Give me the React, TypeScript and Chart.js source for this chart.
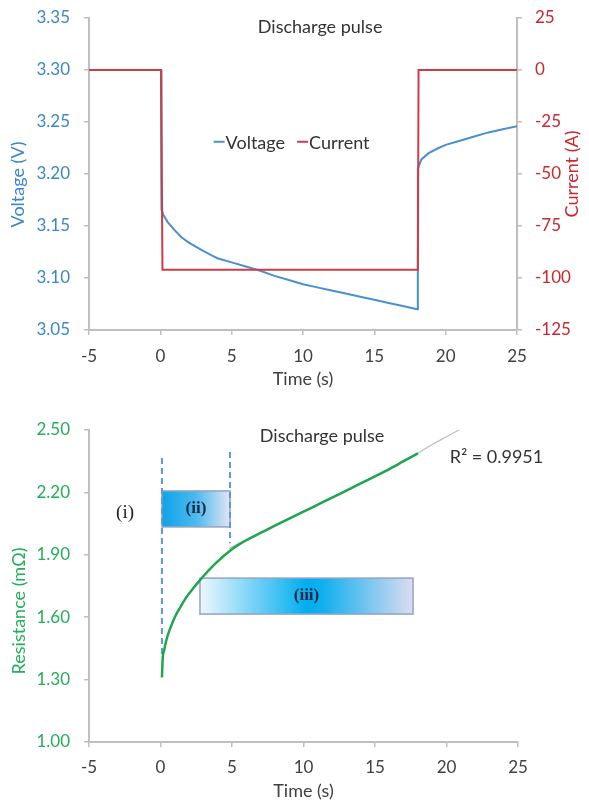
import { useEffect, useRef } from 'react';
import { Chart, registerables } from 'chart.js';

Chart.register(...registerables);

const FONT = 'Lato, "Noto Sans", sans-serif';
const SERIF = '"Liberation Serif", "DejaVu Serif", serif';

// ---------- axis ticks ----------
const timeTicks = [-5, 0, 5, 10, 15, 20, 25];
const voltageTicks = [3.05, 3.1, 3.15, 3.2, 3.25, 3.3, 3.35];
const currentTicks = [-125, -100, -75, -50, -25, 0, 25];
const resistanceTicks = [1.0, 1.3, 1.6, 1.9, 2.2, 2.5];

// ---------- top chart series ----------
const voltageTime = [-5, 0, 0.05, 0.06, 0.1, 0.2, 0.5, 1, 1.5, 2, 3, 3.7, 4, 5, 6, 7, 8, 9, 10, 11, 12, 13, 14, 15, 16, 17, 18, 18.05, 18.3, 18.8, 19.5, 20, 21, 22, 23, 24, 25];
const voltageValues = [3.3, 3.3, 3.3, 3.175, 3.166, 3.161, 3.154, 3.146, 3.139, 3.134, 3.126, 3.121, 3.119, 3.115, 3.111, 3.107, 3.102, 3.098, 3.094, 3.091, 3.088, 3.085, 3.082, 3.079, 3.076, 3.073, 3.07, 3.205, 3.214, 3.22, 3.225, 3.228, 3.232, 3.236, 3.24, 3.243, 3.246];

const currentTime = [-5, 0.05, 0.15, 18.05, 18.1, 25];
const currentValues = [0, 0, -96, -96, 0, 0];

// ---------- bottom chart series ----------
const resistanceTime = [0.1, 0.15, 0.25, 0.45, 0.7, 1.0, 1.4, 1.85, 2.3, 2.76, 3.0, 3.5, 4.0, 4.5, 5.0, 5.5, 6.0, 7.0, 8.0, 9.0, 10.0, 11.0, 12.0, 13.0, 14.0, 15.0, 16.0, 17.0, 18.0];
const resistanceValues = [1.31, 1.4, 1.44, 1.5, 1.55, 1.6, 1.65, 1.7, 1.74, 1.778, 1.797, 1.835, 1.868, 1.899, 1.927, 1.95, 1.97, 2.005, 2.04, 2.074, 2.107, 2.141, 2.175, 2.209, 2.243, 2.277, 2.312, 2.35, 2.388];

const trendTime = [4.8, 7, 10, 13, 16, 18, 19, 20, 21];
const trendValues = [1.93, 2.008, 2.108, 2.21, 2.313, 2.388, 2.43, 2.468, 2.505];

// ---------- bottom chart annotations (data units) ----------
const markerTime = [0.1, 4.86];
const markerTop = [2.365, 2.394];
const markerBottom = [1.404, 1.955];

const boxLabels = ['(ii)', '(iii)'];
const boxStart = [0.1, 2.76];
const boxEnd = [4.86, 17.66];
const boxLow = [2.034, 1.615];
const boxHigh = [2.207, 1.788];
const boxStops: [number, string][][] = [
  [[0, '#0ea3e8'], [0.5, '#4cb9ee'], [1, '#e4e4f4']],
  [[0, '#eef7fd'], [0.5, '#00aeef'], [0.58, '#12b0ef'], [1, '#dcdcf0']],
];

const BLUE = '#3a86c8';
const RED = '#c8282e';
const GREEN = '#22ae5a';
const GRAY_TEXT = '#404040';

const axisGrid = { display: true, drawOnChartArea: false, drawTicks: true, tickLength: 5, color: '#bfbfbf', lineWidth: 1.5 };
const axisBorder = { display: true, color: '#bfbfbf', width: 2 };

const pts = (xs: number[], ys: number[]) => xs.map((x, i) => ({ x, y: ys[i] }));

function rotatedText(ctx: CanvasRenderingContext2D, text: string, x: number, y: number, color: string, font: string) {
  ctx.save();
  ctx.translate(x, y);
  ctx.rotate(-Math.PI / 2);
  ctx.textAlign = 'center';
  ctx.textBaseline = 'middle';
  ctx.fillStyle = color;
  ctx.font = font;
  ctx.fillText(text, 0, 0);
  ctx.restore();
}

const overlayPlugin = {
  id: 'overlay',
  beforeDatasetsDraw(chart: any, _args: any, opts: any) {
    const { ctx, scales } = chart;
    const xs = scales.x;
    const ys = scales.y;
    (opts.boxes || []).forEach((b: any) => {
      const x0 = xs.getPixelForValue(b.t0);
      const x1 = xs.getPixelForValue(b.t1);
      const y0 = ys.getPixelForValue(b.hi);
      const y1 = ys.getPixelForValue(b.lo);
      const g = ctx.createLinearGradient(x0, 0, x1, 0);
      b.stops.forEach(([o, c]: [number, string]) => g.addColorStop(o, c));
      ctx.save();
      ctx.fillStyle = g;
      ctx.fillRect(x0, y0, x1 - x0, y1 - y0);
      ctx.strokeStyle = '#93a4c2';
      ctx.lineWidth = 1.5;
      ctx.strokeRect(x0, y0, x1 - x0, y1 - y0);
      ctx.fillStyle = '#1c2848';
      ctx.font = `bold 17px ${SERIF}`;
      ctx.textAlign = 'center';
      ctx.textBaseline = 'middle';
      ctx.fillText(b.label, (x0 + x1) / 2, (y0 + y1) / 2);
      ctx.restore();
    });
    (opts.markers || []).forEach((m: any) => {
      const x = xs.getPixelForValue(m.t);
      ctx.save();
      ctx.strokeStyle = '#5b9bd5';
      ctx.lineWidth = 2;
      ctx.setLineDash([6, 4]);
      ctx.beginPath();
      ctx.moveTo(x, ys.getPixelForValue(m.top));
      ctx.lineTo(x, ys.getPixelForValue(m.bottom));
      ctx.stroke();
      ctx.restore();
    });
  },
  afterDraw(chart: any, _args: any, opts: any) {
    const { ctx, scales } = chart;
    const xs = scales.x;
    (opts.texts || []).forEach((t: any) => {
      const ys = scales[t.axis || 'y'];
      ctx.save();
      ctx.fillStyle = t.color || '#333';
      ctx.font = t.font || `18px ${FONT}`;
      ctx.textAlign = 'center';
      ctx.textBaseline = 'middle';
      ctx.fillText(t.text, xs.getPixelForValue(t.t), ys.getPixelForValue(t.v));
      ctx.restore();
    });
    (opts.yTitles || []).forEach((t: any) => {
      const ys = scales[t.axis];
      rotatedText(ctx, t.text, t.x, ys.getPixelForValue(t.v), t.color, `18px ${FONT}`);
    });
    if (opts.legend) {
      const L = opts.legend;
      const ys = scales[L.axis || 'y'];
      ctx.save();
      ctx.font = `18px ${FONT}`;
      ctx.textBaseline = 'middle';
      const items = chart.data.datasets.filter((d: any) => d.label);
      const seg = 11;
      const gap = 1;
      const space = 12;
      const widths = items.map((d: any) => seg + gap + ctx.measureText(d.label).width);
      const total = widths.reduce((a: number, b: number) => a + b, 0) + space * (items.length - 1);
      let x = xs.getPixelForValue(L.t) - total / 2;
      const y = ys.getPixelForValue(L.v);
      items.forEach((d: any, i: number) => {
        ctx.strokeStyle = d.borderColor;
        ctx.lineWidth = 2;
        ctx.beginPath();
        ctx.moveTo(x, y);
        ctx.lineTo(x + seg, y);
        ctx.stroke();
        ctx.fillStyle = '#333';
        ctx.textAlign = 'left';
        ctx.fillText(d.label, x + seg + gap, y + 1);
        x += widths[i] + space;
      });
      ctx.restore();
    }
  },
};

const fixWidth = (w: number) => (s: any) => {
  s.width = w;
  s.paddingTop = 0;
  s.paddingBottom = 0;
};

const xAxis = (height: number, pad: number) => ({
  type: 'linear' as const,
  position: 'bottom' as const,
  min: -5,
  max: 25,
  afterBuildTicks: (s: any) => { s.ticks = timeTicks.map((v) => ({ value: v })); },
  afterFit: (s: any) => { s.height = height; },
  grid: axisGrid,
  border: axisBorder,
  ticks: { color: GRAY_TEXT, font: { family: FONT, size: 17 }, padding: pad, maxRotation: 0, autoSkip: false, callback: (v: any) => String(v) },
  title: { display: true, text: 'Time (s)', color: GRAY_TEXT, font: { family: FONT, size: 18 }, padding: { top: 0, bottom: 0 } },
});

function TopChart() {
  const ref = useRef<HTMLCanvasElement>(null);
  useEffect(() => {
    const chart = new Chart(ref.current!, {
      type: 'line',
      data: {
        datasets: [
          { label: 'Voltage', data: pts(voltageTime, voltageValues), yAxisID: 'y', borderColor: '#4a90d0', borderWidth: 2, pointRadius: 0, tension: 0, order: 1 },
          { label: 'Current', data: pts(currentTime, currentValues), yAxisID: 'y2', borderColor: '#cc3d45', borderWidth: 2, pointRadius: 0, tension: 0, order: 0 },
        ],
      },
      options: {
        responsive: false,
        animation: false,
        parsing: false,
        layout: { padding: { top: 18, bottom: 11, left: 0, right: 0 } },
        plugins: {
          legend: { display: false },
          tooltip: { enabled: false },
          overlay: {
            texts: [{ text: 'Discharge pulse', t: 11.2, v: 3.341 }],
            legend: { t: 9.2, v: 3.231 },
            yTitles: [
              { text: 'Voltage (V)', x: 18, axis: 'y', v: 3.19, color: BLUE },
              { text: 'Current (A)', x: 572, axis: 'y2', v: -50, color: RED },
            ],
          },
        } as any,
        scales: {
          x: xAxis(60, 11),
          y: {
            type: 'linear', position: 'left', min: 3.05, max: 3.35,
            afterBuildTicks: (s: any) => { s.ticks = voltageTicks.map((v) => ({ value: v })); },
            afterFit: fixWidth(89),
            grid: axisGrid, border: axisBorder,
            ticks: { color: BLUE, font: { family: FONT, size: 17 }, padding: 14, callback: (v: any) => Number(v).toFixed(2) },
          },
          y2: {
            type: 'linear', position: 'right', min: -125, max: 25,
            afterBuildTicks: (s: any) => { s.ticks = currentTicks.map((v) => ({ value: v })); },
            afterFit: fixWidth(72),
            grid: axisGrid, border: axisBorder,
            ticks: { color: RED, font: { family: FONT, size: 17 }, padding: 13, callback: (v: any) => String(v) },
          },
        } as any,
      },
      plugins: [overlayPlugin as any],
    });
    return () => chart.destroy();
  }, []);
  return <canvas ref={ref} width={589} height={401} style={{ position: 'absolute', left: 0, top: 0 }} />;
}

function BottomChart() {
  const ref = useRef<HTMLCanvasElement>(null);
  useEffect(() => {
    const boxes = boxLabels.map((label, i) => ({ label, t0: boxStart[i], t1: boxEnd[i], lo: boxLow[i], hi: boxHigh[i], stops: boxStops[i] }));
    const markers = markerTime.map((t, i) => ({ t, top: markerTop[i], bottom: markerBottom[i] }));
    const chart = new Chart(ref.current!, {
      type: 'line',
      data: {
        datasets: [
          { data: pts(resistanceTime, resistanceValues), borderColor: '#1ea64f', borderWidth: 2.5, pointRadius: 0, cubicInterpolationMode: 'monotone', order: 0 },
          { data: pts(trendTime, trendValues), borderColor: '#bdbdbd', borderWidth: 1.2, pointRadius: 0, cubicInterpolationMode: 'monotone', order: 1 },
        ],
      },
      options: {
        responsive: false,
        animation: false,
        parsing: false,
        layout: { padding: { top: 30, bottom: 0, left: 0, right: 71 } },
        plugins: {
          legend: { display: false },
          tooltip: { enabled: false },
          overlay: {
            boxes,
            markers,
            texts: [
              { text: 'Discharge pulse', t: 11.3, v: 2.471 },
              { text: 'R\u00b2 = 0.9951', t: 23.5, v: 2.37 },
              { text: '(i)', t: -2.48, v: 2.1, font: `19px ${SERIF}`, color: '#222' },
            ],
            yTitles: [{ text: 'Resistance (m\u03a9)', x: 19, axis: 'y', v: 1.63, color: GREEN }],
          },
        } as any,
        scales: {
          x: xAxis(60, 10),
          y: {
            type: 'linear', position: 'left', min: 1.0, max: 2.5,
            afterBuildTicks: (s: any) => { s.ticks = resistanceTicks.map((v) => ({ value: v })); },
            afterFit: fixWidth(89),
            grid: axisGrid, border: axisBorder,
            ticks: { color: GREEN, font: { family: FONT, size: 17 }, padding: 14, callback: (v: any) => Number(v).toFixed(2) },
          },
        } as any,
      },
      plugins: [overlayPlugin as any],
    });
    return () => chart.destroy();
  }, []);
  return <canvas ref={ref} width={589} height={402} style={{ position: 'absolute', left: 0, top: 400 }} />;
}

export default function App() {
  return (
    <div style={{ position: 'absolute', left: 0, top: 0, width: 589, height: 802, background: '#fff', overflow: 'hidden' }}>
      <TopChart />
      <BottomChart />
    </div>
  );
}
